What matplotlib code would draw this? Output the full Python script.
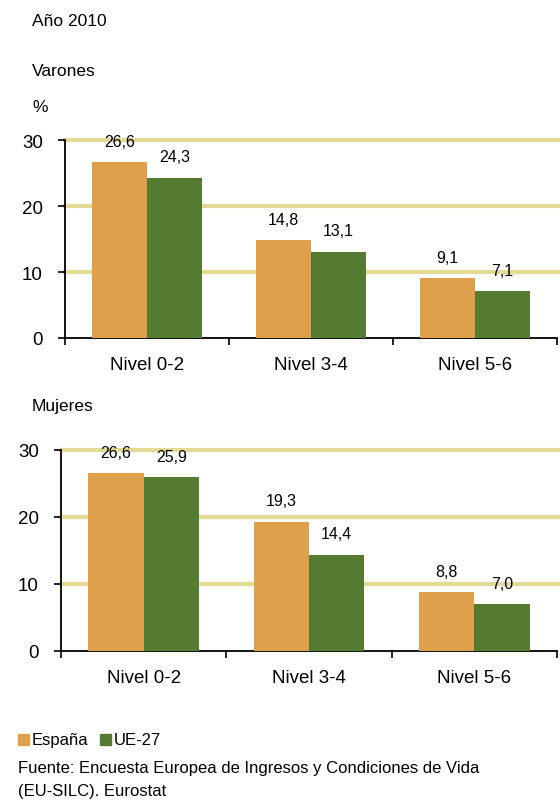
import matplotlib.pyplot as plt
import numpy as np

plt.rcParams['font.family'] = ['Liberation Sans', 'DejaVu Sans']

# Data
niveles = ["Nivel 0-2", "Nivel 3-4", "Nivel 5-6"]
varones_espana = [26.6, 14.8, 9.1]
varones_ue27 = [24.3, 13.1, 7.1]
mujeres_espana = [26.6, 19.3, 8.8]
mujeres_ue27 = [25.9, 14.4, 7.0]
yticks = [0, 10, 20, 30]

ORANGE = '#DFA04B'
GREEN = '#557A31'
GRID = '#E2DA95'

W, H = 560, 803
fig = plt.figure(figsize=(W / 100, H / 100), dpi=100)


def fx(px):
    return px / W


def fy(py):
    return 1 - py / H


def draw_panel(ax, espana, ue):
    x = np.arange(len(niveles))
    w = 0.335
    b1 = ax.bar(x - w / 2, espana, w, color=ORANGE, zorder=3)
    b2 = ax.bar(x + w / 2, ue, w, color=GREEN, zorder=3)
    for bars, vals in ((b1, espana), (b2, ue)):
        for rect, v in zip(bars, vals):
            ax.annotate(f"{v:.1f}".replace('.', ','),
                        (rect.get_x() + rect.get_width() / 2, rect.get_height()),
                        xytext=(0, 9.5), textcoords='offset points',
                        ha='center', va='bottom', fontsize=11.5, zorder=4)
    ax.set_xlim(-0.5, 2.5)
    ax.set_ylim(0, 30)
    ax.set_yticks(yticks)
    ax.set_xticks(x)
    ax.set_xticklabels(niveles)
    ax.set_xticks([-0.5, 0.5, 1.5, 2.5], minor=True)
    ax.tick_params(axis='x', which='major', length=0, pad=13, labelsize=13.5)
    ax.tick_params(axis='x', which='minor', length=5, width=1.2, direction='out')
    ax.tick_params(axis='y', length=5, width=1.2, pad=11, labelsize=13.5)
    for s in ('top', 'right'):
        ax.spines[s].set_visible(False)
    for s in ('left', 'bottom'):
        ax.spines[s].set_linewidth(1.3)
    for yv in yticks[1:]:
        ax.axhline(yv, color=GRID, lw=3, zorder=1, clip_on=False,
                   xmin=0, xmax=1.006)


ax1 = fig.add_axes([fx(65), fy(339), fx(557 - 65), fy(141) - fy(339)])
draw_panel(ax1, varones_espana, varones_ue27)

ax2 = fig.add_axes([fx(61), fy(652), fx(557 - 61), fy(451) - fy(652)])
draw_panel(ax2, mujeres_espana, mujeres_ue27)

fig.text(fx(32), fy(22), "Año 2010", fontsize=12.5, va='center')
fig.text(fx(32), fy(72), "Varones", fontsize=12.5, va='center')
fig.text(fx(32), fy(108), "%", fontsize=12.5, va='center')
fig.text(fx(32), fy(407), "Mujeres", fontsize=12.5, va='center')

# Legend
fig.patches.append(plt.Rectangle((fx(18), fy(746)), fx(11), fy(735) - fy(746),
                                 transform=fig.transFigure, color=ORANGE))
fig.text(fx(32), fy(741), "España", fontsize=12, va='center')
fig.patches.append(plt.Rectangle((fx(100), fy(746)), fx(11), fy(735) - fy(746),
                                 transform=fig.transFigure, color=GREEN))
fig.text(fx(114), fy(741), "UE-27", fontsize=12, va='center')

fig.text(fx(18), fy(769), "Fuente: Encuesta Europea de Ingresos y Condiciones de Vida",
         fontsize=12, va='center')
fig.text(fx(18), fy(792), "(EU-SILC). Eurostat", fontsize=12, va='center')

fig.savefig('out.png', dpi=100, facecolor='white')
